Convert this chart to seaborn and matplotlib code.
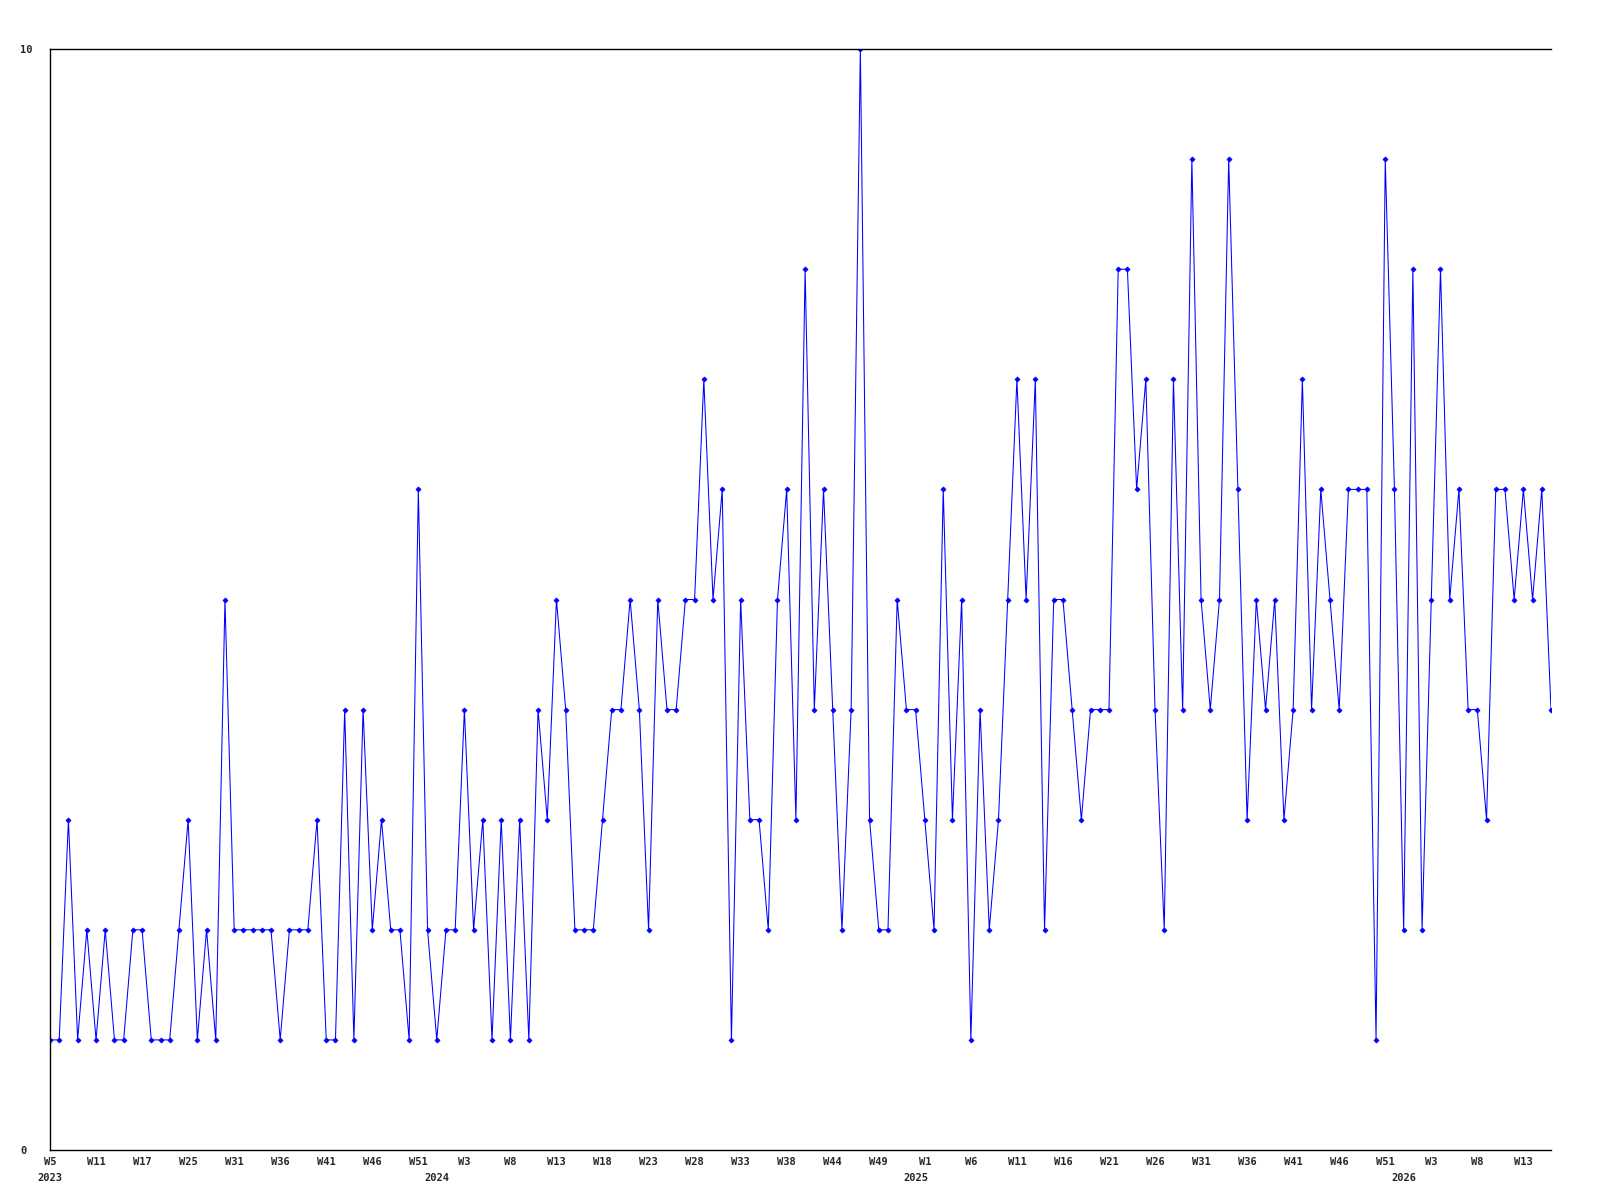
import matplotlib
matplotlib.use("Agg")
import matplotlib.pyplot as plt
import seaborn as sns
import numpy as np

# weekly counts (weeks without activity are not listed)
counts = [
    1, 1, 3, 1, 2, 1, 2, 1, 1, 2, 2, 1, 1, 1, 2, 3, 1, 2, 1, 5, 2,
    2, 2, 2, 2, 1, 2, 2, 2, 3, 1, 1, 4, 1, 4, 2, 3, 2, 2, 1, 6, 2,
    1, 2, 2, 4, 2, 3, 1, 3, 1, 3, 1, 4, 3, 5, 4, 2, 2, 2, 3,
    4, 4, 5, 4, 2, 5, 4, 4, 5, 5, 7, 5, 6, 1, 5, 3, 3, 2, 5, 6, 3, 8,
    4, 6, 4, 2, 4, 10, 3, 2, 2, 5, 4, 4, 3, 2, 6, 3, 5, 1, 4, 2, 3,
    5, 7, 5, 7, 2, 5, 5, 4, 3, 4, 4, 4, 8, 8, 6, 7, 4, 2, 7, 4, 9,
    5, 4, 5, 9, 6, 3, 5, 4, 5, 3, 4, 7, 4, 6, 5, 4, 6, 6, 6, 1,
    9, 6, 2, 8, 2, 5, 8, 5, 6, 4, 4, 3, 6, 6, 5, 6, 5, 6, 4,
]

# labels shown for every 5th point
week_labels = [
    "W5", "W11", "W17", "W25", "W31", "W36", "W41", "W46", "W51",
    "W3", "W8", "W13", "W18", "W23", "W28", "W33", "W38", "W44", "W49",
    "W1", "W6", "W11", "W16", "W21", "W26", "W31", "W36", "W41", "W46",
    "W51", "W3", "W8", "W13",
]
label_step = 5

# year label and index of the first point of that year
years = ["2023", "2024", "2025", "2026"]
year_start = [0, 42, 94, 147]

sns.set_theme(style="white")
plt.rcParams["font.family"] = ["DejaVu Sans Mono", "DejaVu Sans"]
plt.rcParams["font.weight"] = "bold"

fig = plt.figure(figsize=(16, 12), dpi=100)
ax = fig.add_axes([50 / 1600, 1 - 1150 / 1200, 1501 / 1600, 1101 / 1200])

idx = np.arange(len(counts))
sns.lineplot(x=idx, y=counts, ax=ax, color="#0000ff", linewidth=0.75,
             marker="D", markersize=2.6, markeredgewidth=0.5,
             markeredgecolor="#0000ff")

ax.set_xlim(0, len(counts) - 1)
ax.set_ylim(0, 10)

for side in ["left", "bottom", "top"]:
    ax.spines[side].set_color("black")
    ax.spines[side].set_linewidth(1.0)
ax.spines["right"].set_visible(False)

ax.set_yticks([0, 10])
ax.set_yticklabels(["0", "10"], fontsize=7.5, fontweight="bold", ha="left")
ax.tick_params(axis="y", length=0, pad=21.6)

ax.set_xticks(idx[::label_step])
ax.set_xticklabels(week_labels, fontsize=7.5, fontweight="bold")
ax.tick_params(axis="x", length=0, pad=5)

for yr, start in zip(years, year_start):
    ax.annotate(yr, xy=(start, 0), xycoords=("data", "axes fraction"),
                xytext=(0, -16.5), textcoords="offset points",
                ha="center", va="top", fontsize=7.5, fontweight="bold")

ax.set_xlabel("")
ax.set_ylabel("")
ax.grid(False)

fig.savefig("out.png", dpi=100)
plt.close(fig)
